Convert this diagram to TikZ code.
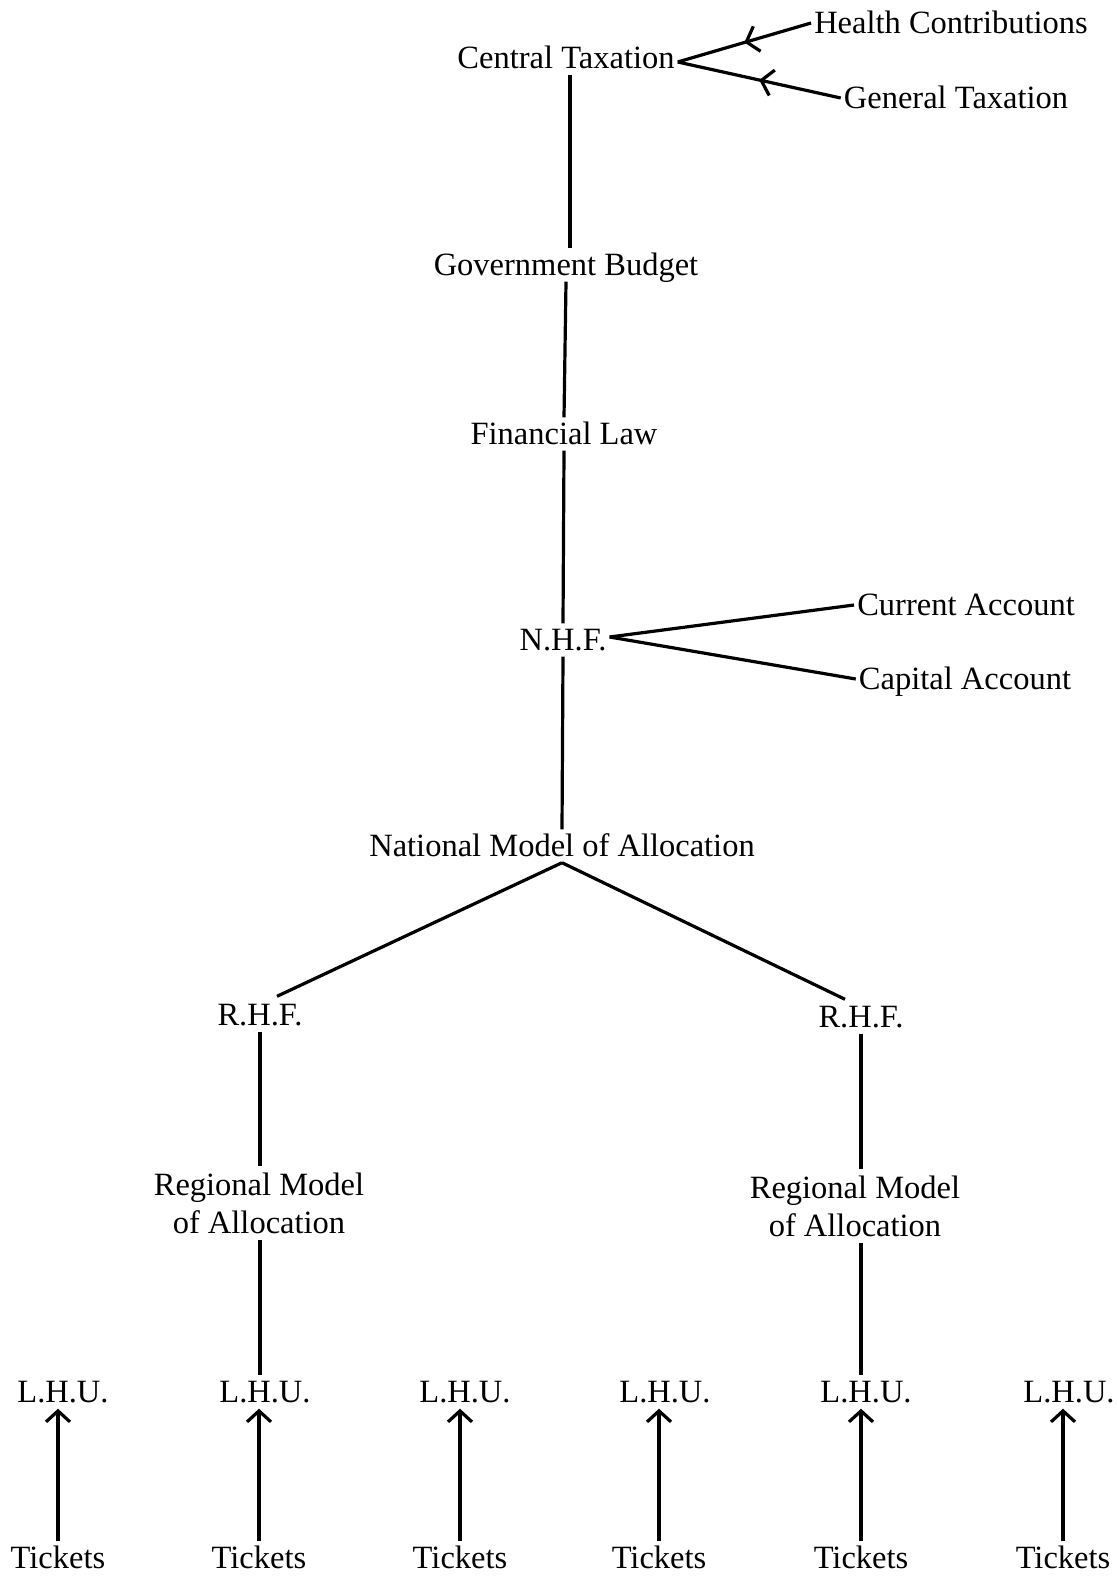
\documentclass[tikz,border=0pt]{standalone}
\usepackage{fontspec}
\setmainfont{Liberation Serif}
\usetikzlibrary{arrows.meta,decorations.markings,calc}
\begin{document}
\begin{tikzpicture}[x=1pt,y=-1pt,
  base/.style={font=\fontsize{32.5}{38}\selectfont, inner xsep=3pt, inner ysep=6pt,
               align=center},
  lbl/.style={base, text height=21pt, text depth=0pt},
  link/.style={line width=3.2pt},
  feed/.style={link, postaction={decorate},
    decoration={markings, mark=at position 0.5 with
      {\arrow{Straight Barb[length=11pt,width=26pt]}}}},
  up/.style={link, -{Straight Barb[length=11pt,width=24pt]}}
]
\useasboundingbox (0,0) rectangle (1116,1578);

% funding chain
\node[lbl] (ct)  at (566,58)   {Central Taxation};
\node[lbl] (hc)  at (951,23)   {Health Contributions};
\node[lbl] (gt)  at (956,98)   {General Taxation};
\node[lbl] (gb)  at (566,265)  {Government Budget};
\node[lbl] (fl)  at (564,434)  {Financial Law};
\node[lbl] (nhf) at (563,640)  {N.H.F.};
\node[lbl] (cur) at (966,605)  {Current Account};
\node[lbl] (cap) at (965,679)  {Capital Account};
\node[lbl] (nma) at (562,846)  {National Model of Allocation};

% regional level
\node[lbl]  (rhfl) at (260,1015) {R.H.F.};
\node[lbl]  (rhfr) at (861,1017) {R.H.F.};
\node[base] (rmal) at (259,1203) {Regional Model\\of Allocation};
\node[base] (rmar) at (855,1206) {Regional Model\\of Allocation};

% local health units and tickets
\foreach \i/\x/\t in {1/63/58, 2/265/259, 3/465/460, 4/665/659, 5/866/861, 6/1069/1063} {
  \node[lbl] (lhu\i) at (\x,1392) {L.H.U.};
  \node[lbl] (tk\i)  at (\t,1558) {Tickets};
}

% connectors
\coordinate (ctj) at ($(ct.east)+(0,4)$);
\draw[feed] (hc.west) -- (ctj);
\draw[feed] (gt.west) -- (ctj);
\coordinate (ctb) at ($(ct.south)+(4,0)$);
\draw[link] (ctb) -- (ctb |- gb.north);
\draw[link] (gb.south) -- (fl.north);
\draw[link] (fl.south) -- (nhf.north);
\coordinate (nhfj) at ($(nhf.east)+(0,-3)$);
\draw[link] (nhfj) -- (cur.west);
\draw[link] (nhfj) -- (cap.west);
\draw[link] (nhf.south) -- (nma.north);
\draw[link] (nma.south) -- ($(rhfl.north)+(17,-2)$);
\draw[link] (nma.south) -- ($(rhfr.north)+(-16,-1)$);
\draw[link] (rhfl.south) -- (rhfl.south |- rmal.north);
\draw[link] (rhfr.south) -- (rhfr.south |- rmar.north);
\draw[link] (rhfl.south |- rmal.south) -- (rhfl.south |- lhu2.north);
\draw[link] (rhfr.south |- rmar.south) -- (rhfr.south |- lhu5.north);
\foreach \i in {1,...,6}
  \draw[up] (tk\i.north) -- (tk\i.north |- lhu\i.south);
\end{tikzpicture}
\end{document}
